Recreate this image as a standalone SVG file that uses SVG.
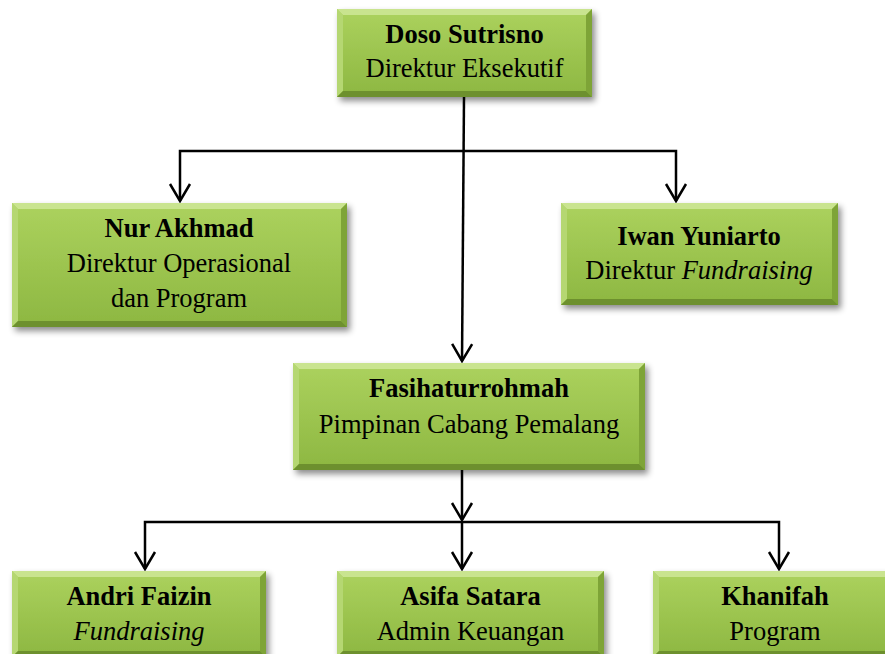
<svg xmlns="http://www.w3.org/2000/svg" width="885" height="654" viewBox="0 0 885 654">
<defs>
<linearGradient id="g" x1="0" y1="0" x2="0" y2="1">
<stop offset="0" stop-color="#acd25e"/>
<stop offset="1" stop-color="#8db741"/>
</linearGradient>
<filter id="sh" x="-10%" y="-10%" width="125%" height="130%">
<feDropShadow dx="3" dy="4" stdDeviation="3" flood-color="#000" flood-opacity="0.45"/>
</filter>
<marker id="ah" viewBox="-2 -2 22 24" refX="17" refY="10" markerWidth="22" markerHeight="24" markerUnits="userSpaceOnUse" orient="auto">
<path d="M0,0 L17,10 L0,20" fill="none" stroke="#000" stroke-width="2.5"/>
</marker>
<style>
.box{fill:url(#g);filter:url(#sh)}
.bt{fill:#c9e48f}
.bl{fill:#b5d772}
.br{fill:#7ea437}
.bb{fill:#6d902e}
text{font-family:"Liberation Serif","Times New Roman",serif;font-size:26.5px;fill:#000;text-anchor:middle}
.n{font-weight:bold}
.c{fill:none;stroke:#000;stroke-width:2.5}
</style>
</defs>
<rect width="885" height="654" fill="#fff"/>

<g id="connectors">
<path class="c" d="M464,97 L462,361" marker-end="url(#ah)"/>
<path class="c" d="M464,151 H180 V201" marker-end="url(#ah)"/>
<path class="c" d="M464,151 H676 V201" marker-end="url(#ah)"/>
<path class="c" d="M462,470 V520" marker-end="url(#ah)"/>
<path class="c" d="M462,522 H145 V569" marker-end="url(#ah)"/>
<path class="c" d="M462,522 H779 V569" marker-end="url(#ah)"/>
<path class="c" d="M462,522 V569" marker-end="url(#ah)"/>
</g>

<g id="doso">
<rect class="box" x="337" y="9" width="255" height="88"/>
<polygon class="bt" points="337,9 592,9 586,15 343,15"/>
<polygon class="bl" points="337,9 343,15 343,91 337,97"/>
<polygon class="br" points="592,9 592,97 586,91 586,15"/>
<polygon class="bb" points="337,97 592,97 586,91 343,91"/>
<text class="n" x="464.5" y="43">Doso Sutrisno</text>
<text x="464.5" y="77">Direktur Eksekutif</text>
</g>

<g id="nur">
<rect class="box" x="12" y="203" width="335" height="124"/>
<polygon class="bt" points="12,203 347,203 341,209 18,209"/>
<polygon class="bl" points="12,203 18,209 18,321 12,327"/>
<polygon class="br" points="347,203 347,327 341,321 341,209"/>
<polygon class="bb" points="12,327 347,327 341,321 18,321"/>
<text class="n" x="179" y="237">Nur Akhmad</text>
<text x="179" y="272">Direktur Operasional</text>
<text x="179" y="307">dan Program</text>
</g>

<g id="iwan">
<rect class="box" x="561" y="203" width="277" height="102"/>
<polygon class="bt" points="561,203 838,203 832,209 567,209"/>
<polygon class="bl" points="561,203 567,209 567,299 561,305"/>
<polygon class="br" points="838,203 838,305 832,299 832,209"/>
<polygon class="bb" points="561,305 838,305 832,299 567,299"/>
<text class="n" x="699" y="245">Iwan Yuniarto</text>
<text x="699" y="279">Direktur <tspan font-style="italic">Fundraising</tspan></text>
</g>

<g id="fasih">
<rect class="box" x="293" y="363" width="352" height="107"/>
<polygon class="bt" points="293,363 645,363 639,369 299,369"/>
<polygon class="bl" points="293,363 299,369 299,464 293,470"/>
<polygon class="br" points="645,363 645,470 639,464 639,369"/>
<polygon class="bb" points="293,470 645,470 639,464 299,464"/>
<text class="n" x="469" y="397">Fasihaturrohmah</text>
<text x="469" y="433">Pimpinan Cabang Pemalang</text>
</g>

<g id="andri">
<rect class="box" x="12" y="571" width="254" height="86"/>
<polygon class="bt" points="12,571 266,571 260,577 18,577"/>
<polygon class="bl" points="12,571 18,577 18,651 12,657"/>
<polygon class="br" points="266,571 266,657 260,651 260,577"/>
<polygon class="bb" points="12,657 266,657 260,651 18,651"/>
<text class="n" x="139" y="605">Andri Faizin</text>
<text x="139" y="640" font-style="italic">Fundraising</text>
</g>

<g id="asifa">
<rect class="box" x="337" y="571" width="267" height="86"/>
<polygon class="bt" points="337,571 604,571 598,577 343,577"/>
<polygon class="bl" points="337,571 343,577 343,651 337,657"/>
<polygon class="br" points="604,571 604,657 598,651 598,577"/>
<polygon class="bb" points="337,657 604,657 598,651 343,651"/>
<text class="n" x="470.5" y="605">Asifa Satara</text>
<text x="470.5" y="640">Admin Keuangan</text>
</g>

<g id="khanifah">
<rect class="box" x="653" y="571" width="240" height="86"/>
<polygon class="bt" points="653,571 893,571 887,577 659,577"/>
<polygon class="bl" points="653,571 659,577 659,651 653,657"/>
<polygon class="bb" points="653,657 893,657 887,651 659,651"/>
<text class="n" x="775" y="605">Khanifah</text>
<text x="775" y="640">Program</text>
</g>
</svg>
